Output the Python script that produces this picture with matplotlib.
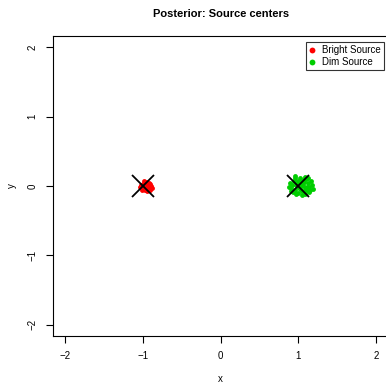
# posterior source centers, R base-graphics look

import matplotlib
matplotlib.use("Agg")
import matplotlib.pyplot as plt

plt.rcParams['font.family'] = ['Liberation Sans', 'DejaVu Sans']

# posterior draws of the bright source center
bright_x = [-0.97, -0.95, -0.99, -0.93, -1.00, -0.96, -0.92, -0.98, -1.01, -0.94,
            -0.90, -0.97, -1.03, -0.95, -0.99, -0.91, -0.96, -1.02, -0.93, -0.98,
            -0.94, -1.00, -0.92, -0.89, -0.97, -1.04, -0.95, -0.99, -0.91, -0.96]
bright_y = [0.00, 0.02, -0.01, 0.01, 0.03, -0.04, -0.02, 0.05, -0.03, 0.04,
            0.00, -0.06, 0.01, -0.02, 0.02, 0.03, 0.06, -0.05, -0.05, -0.02,
            0.00, 0.00, 0.05, -0.03, 0.03, -0.01, -0.07, 0.07, -0.06, 0.01]

# posterior draws of the dim source center
dim_x = [1.03, 0.98, 1.08, 0.95, 1.12, 1.00, 1.06, 0.92, 1.15, 1.02,
         0.97, 1.10, 0.90, 1.18, 1.05, 0.94, 1.13, 1.01, 0.99, 1.07,
         0.93, 1.16, 1.04, 0.96, 1.11, 0.89, 1.09, 1.00, 1.14, 0.91,
         1.06, 1.02, 0.97, 1.12, 1.19, 0.95, 1.08, 0.88, 1.03, 1.10]
dim_y = [0.00, 0.05, -0.03, -0.06, 0.04, -0.10, 0.09, 0.02, -0.05, 0.12,
         -0.12, 0.10, -0.03, 0.01, -0.13, 0.08, -0.09, 0.03, -0.02, 0.06,
         -0.09, 0.07, -0.07, 0.11, -0.01, 0.05, -0.11, 0.08, -0.02, -0.07,
         0.02, -0.04, 0.01, 0.12, -0.04, 0.14, 0.13, -0.01, 0.06, -0.06]

# true centers
true_x = [-1, 1]
true_y = [0, 0]

ticks = [-2, -1, 0, 1, 2]

fig = plt.figure(figsize=(3.86, 3.83), dpi=100)
ax = fig.add_axes([0.1373, 0.1227, 0.8694, 0.783])

ax.plot(bright_x, bright_y, 'o', color='#ff0000', markersize=3.5, markeredgewidth=0, label='Bright Source')
ax.plot(dim_x, dim_y, 'o', color='#00cd00', markersize=3.5, markeredgewidth=0, label='Dim Source')
ax.plot(true_x, true_y, 'x', color='black', markersize=16, markeredgewidth=1.3, linestyle='none')

ax.set_xlim(-2.16, 2.16)
ax.set_ylim(-2.16, 2.16)
ax.set_xticks(ticks)
ax.set_yticks(ticks)
ax.set_xticklabels(['\u22122', '\u22121', '0', '1', '2'])
ax.set_yticklabels(['\u22122', '\u22121', '0', '1', '2'], rotation=90, va='center')
ax.tick_params(length=5, width=0.8, labelsize=7, pad=6)
for s in ax.spines.values():
    s.set_linewidth(0.8)

ax.set_xlabel('x', fontsize=7, labelpad=9)
ax.set_ylabel('y', fontsize=7, labelpad=8)
ax.set_title('Posterior: Source centers', fontsize=8, fontweight='bold', pad=14)

leg = ax.legend(loc='upper right', bbox_to_anchor=(1.0, 0.995), fontsize=7, frameon=True,
                fancybox=False, edgecolor='black', handlelength=0.8, handletextpad=0.6,
                borderpad=0.3, labelspacing=0.2, markerscale=1.2)
leg.get_frame().set_linewidth(0.8)

fig.savefig('out.png', dpi=100)
